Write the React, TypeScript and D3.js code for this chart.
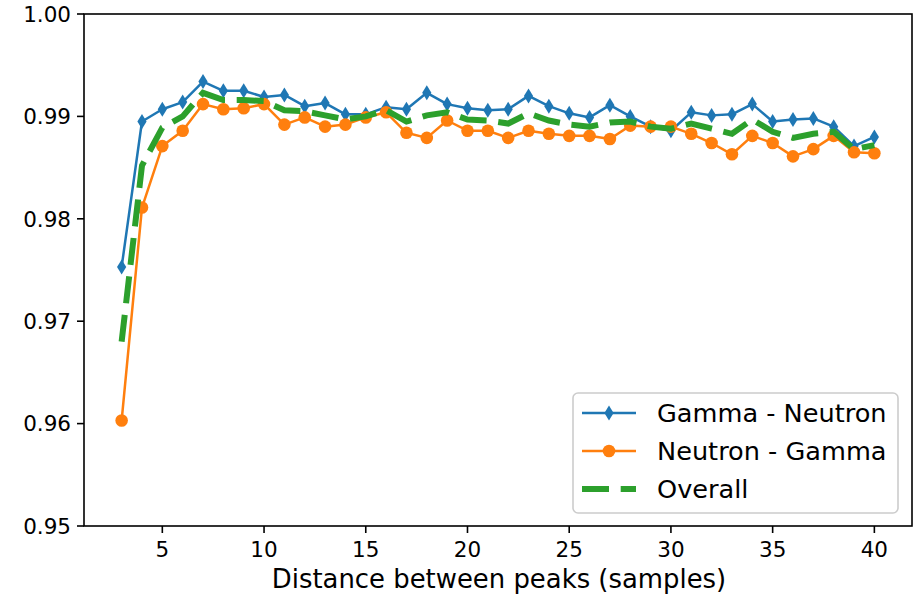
import React, { useEffect, useRef } from "react";
import * as d3 from "d3";

// distance between peaks (samples)
const distances = [3, 4, 5, 6, 7, 8, 9, 10, 11, 12, 13, 14, 15, 16, 17, 18, 19, 20, 21,
  22, 23, 24, 25, 26, 27, 28, 29, 30, 31, 32, 33, 34, 35, 36, 37, 38, 39, 40];

const gammaNeutron = [0.9753, 0.9895, 0.9907, 0.9914, 0.9934, 0.9925, 0.9925, 0.9919, 0.9921,
  0.9910, 0.9913, 0.9902, 0.9902, 0.9909, 0.9907, 0.9923, 0.9912, 0.9908, 0.9906, 0.9907,
  0.9920, 0.9910, 0.9903, 0.9899, 0.9911, 0.9900, 0.9890, 0.9886, 0.9904, 0.9901, 0.9902,
  0.9912, 0.9895, 0.9897, 0.9898, 0.9890, 0.9871, 0.9880];

const neutronGamma = [0.9603, 0.9811, 0.9871, 0.9886, 0.9912, 0.9907, 0.9908, 0.9912, 0.9892,
  0.9899, 0.9890, 0.9892, 0.9899, 0.9904, 0.9884, 0.9879, 0.9896, 0.9886, 0.9886, 0.9879,
  0.9886, 0.9883, 0.9881, 0.9881, 0.9878, 0.9891, 0.9890, 0.9890, 0.9883, 0.9874, 0.9863,
  0.9881, 0.9874, 0.9861, 0.9868, 0.9881, 0.9865, 0.9864];

const overall = [0.9680, 0.9852, 0.9889, 0.9900, 0.9923, 0.9916, 0.9916, 0.9915, 0.9906,
  0.9905, 0.9901, 0.9897, 0.9900, 0.9906, 0.9895, 0.9901, 0.9904, 0.9897, 0.9896, 0.9893,
  0.9903, 0.9896, 0.9892, 0.9890, 0.9894, 0.9895, 0.9890, 0.9888, 0.9893, 0.9888, 0.9883,
  0.9897, 0.9885, 0.9879, 0.9883, 0.9885, 0.9868, 0.9872];

const xTicks = [5, 10, 15, 20, 25, 30, 35, 40];
const yTicks = [0.95, 0.96, 0.97, 0.98, 0.99, 1.0];

const seriesNames = ["Gamma - Neutron", "Neutron - Gamma", "Overall"];
const colors = ["#1f77b4", "#ff7f0e", "#2ca02c"];

const W = 914;
const H = 594;
const FONT = "'DejaVu Sans', sans-serif";

export default function App() {
  const ref = useRef<SVGSVGElement>(null);

  useEffect(() => {
    const svg = d3.select(ref.current);
    svg.selectAll("*").remove();

    const left = 84, right = 912, top = 14, bottom = 526;
    const x = d3.scaleLinear().domain([1.15, 41.85]).range([left, right]);
    const y = d3.scaleLinear().domain([0.95, 1.0]).range([bottom, top]);

    svg.append("rect").attr("width", W).attr("height", H).attr("fill", "white");

    svg.append("clipPath").attr("id", "plotclip")
      .append("rect").attr("x", left).attr("y", top)
      .attr("width", right - left).attr("height", bottom - top);

    const plot = svg.append("g").attr("clip-path", "url(#plotclip)");

    const line = (vals: number[]) =>
      d3.line<number>().x((_, i) => x(distances[i])).y(d => y(d))(vals);

    // blue with thin diamonds
    plot.append("path").attr("d", line(gammaNeutron)!)
      .attr("fill", "none").attr("stroke", colors[0]).attr("stroke-width", 2.5)
      .attr("stroke-linejoin", "round");
    const diamond = (cx: number, cy: number) =>
      `M${cx},${cy - 7.5}L${cx + 4.6},${cy}L${cx},${cy + 7.5}L${cx - 4.6},${cy}Z`;
    plot.selectAll(".dia").data(gammaNeutron).join("path")
      .attr("d", (d, i) => diamond(x(distances[i]), y(d)))
      .attr("fill", colors[0]);

    // orange with circles
    plot.append("path").attr("d", line(neutronGamma)!)
      .attr("fill", "none").attr("stroke", colors[1]).attr("stroke-width", 2.5)
      .attr("stroke-linejoin", "round");
    plot.selectAll(".dot").data(neutronGamma).join("circle")
      .attr("cx", (d, i) => x(distances[i])).attr("cy", d => y(d))
      .attr("r", 6.3).attr("fill", colors[1]);

    // green dashed
    plot.append("path").attr("d", line(overall)!)
      .attr("fill", "none").attr("stroke", colors[2]).attr("stroke-width", 6)
      .attr("stroke-dasharray", "27,11.7");

    // spines
    svg.append("rect").attr("x", left).attr("y", top)
      .attr("width", right - left).attr("height", bottom - top)
      .attr("fill", "none").attr("stroke", "black").attr("stroke-width", 1.6);

    // x ticks
    const xt = svg.append("g");
    xTicks.forEach(t => {
      xt.append("line").attr("x1", x(t)).attr("x2", x(t))
        .attr("y1", bottom).attr("y2", bottom + 7).attr("stroke", "black").attr("stroke-width", 1.6);
      xt.append("text").attr("x", x(t)).attr("y", bottom + 31)
        .attr("text-anchor", "middle").attr("font-family", FONT).attr("font-size", 21.5)
        .attr("fill", "black").text(String(t));
    });

    // y ticks
    const yt = svg.append("g");
    yTicks.forEach(t => {
      yt.append("line").attr("x1", left - 7).attr("x2", left)
        .attr("y1", y(t)).attr("y2", y(t)).attr("stroke", "black").attr("stroke-width", 1.6);
      yt.append("text").attr("x", left - 13).attr("y", y(t))
        .attr("dy", "0.36em").attr("text-anchor", "end").attr("font-family", FONT)
        .attr("font-size", 21.5).attr("fill", "black").text(t.toFixed(2));
    });

    svg.append("text").attr("x", (left + right) / 2 + 1).attr("y", 588)
      .attr("text-anchor", "middle").attr("font-family", FONT).attr("font-size", 25.9)
      .attr("fill", "black").text("Distance between peaks (samples)");

    // legend
    const lg = svg.append("g");
    lg.append("rect").attr("x", 573).attr("y", 393).attr("width", 325).attr("height", 120)
      .attr("rx", 5).attr("fill", "white").attr("fill-opacity", 0.8)
      .attr("stroke", "#cccccc").attr("stroke-width", 1.6);
    const rows = [413, 451, 489];
    seriesNames.forEach((name, i) => {
      const cy = rows[i];
      if (i < 2) {
        lg.append("line").attr("x1", 582).attr("x2", 636).attr("y1", cy).attr("y2", cy)
          .attr("stroke", colors[i]).attr("stroke-width", 2.5);
        if (i === 0) lg.append("path").attr("d", diamond(609, cy)).attr("fill", colors[0]);
        else lg.append("circle").attr("cx", 609).attr("cy", cy).attr("r", 6.3).attr("fill", colors[1]);
      } else {
        lg.append("line").attr("x1", 582).attr("x2", 636).attr("y1", cy).attr("y2", cy)
          .attr("stroke", colors[2]).attr("stroke-width", 6).attr("stroke-dasharray", "27,11.7");
      }
      lg.append("text").attr("x", 657).attr("y", cy).attr("dy", "0.36em")
        .attr("font-family", FONT).attr("font-size", 25.6).attr("fill", "black").text(name);
    });
  }, []);

  return (
    <svg ref={ref} width={W} height={H}
      style={{ position: "absolute", left: 0, top: 0, display: "block" }} />
  );
}
